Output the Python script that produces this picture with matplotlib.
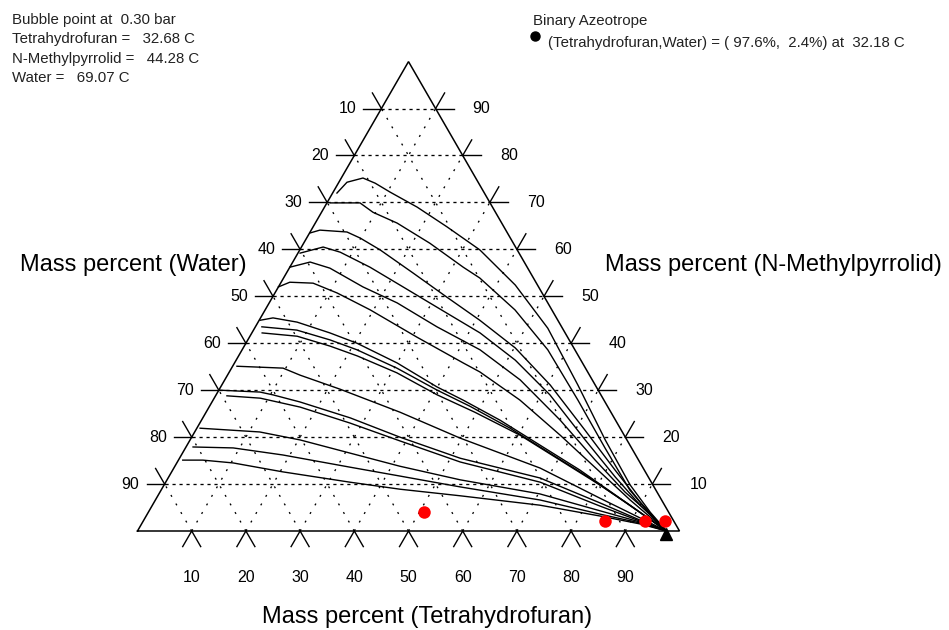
import numpy as np
import matplotlib
matplotlib.use("Agg")
import matplotlib.pyplot as plt

# ---------------- data (mass percent) ----------------
components = ["Tetrahydrofuran", "N-Methylpyrrolid", "Water"]
pressure_bar = 0.30
boiling_points = [32.68, 44.28, 69.07]
azeo_thf = 97.6
azeo_water = 2.4
azeo_temp = 32.18
grid_levels = [10, 20, 30, 40, 50, 60, 70, 80, 90]

# red points (THF %, NMP %)
red_thf = [50.8, 85.2, 92.5, 96.2]
red_nmp = [4.05, 2.13, 2.19, 2.19]

# curves: (THF %, NMP %)
curve_01 = [(0.8, 72.0), (1.5, 74.3), (4.0, 75.2), (6.8, 74.1), (10.5, 72.2), (17.1, 69.0), (24.7, 64.8),
            (33.2, 59.9), (43.5, 52.4), (54.1, 43.2), (65.7, 31.1), (76.6, 19.4), (86.0, 9.8), (92.6, 4.0), (97.6, 0.0)]
curve_02 = [(0.6, 69.9), (6.1, 69.9), (9.5, 67.9), (15.1, 65.6), (23.3, 61.3), (32.0, 56.2), (36.2, 53.9),
            (46.1, 47.1), (56.4, 38.6), (67.3, 27.9), (77.4, 17.7), (86.5, 8.7), (92.8, 3.6), (97.6, 0.0)]
curve_03 = [(0.1, 63.5), (1.6, 64.1), (6.8, 63.7), (9.9, 62.4), (14.8, 59.9), (23.3, 55.0), (32.2, 49.8),
            (40.7, 44.9), (50.2, 39.0), (60.6, 31.1), (71.8, 21.5), (81.6, 13.0), (89.6, 6.2), (97.6, 0.0)]
curve_04 = [(0.4, 59.2), (4.0, 60.5), (7.7, 59.4), (14.8, 56.2), (23.0, 52.0), (33.9, 46.4), (42.1, 42.2),
            (51.5, 36.4), (61.6, 29.0), (72.9, 19.4), (82.4, 11.5), (90.0, 5.5), (97.6, 0.0)]
curve_05 = [(0.0, 56.2), (3.2, 57.3), (7.5, 56.0), (15.6, 52.0), (23.6, 48.6), (33.5, 43.5), (43.9, 38.6),
            (54.5, 32.2), (66.2, 23.6), (76.9, 15.1), (85.8, 8.3), (92.2, 4.0), (97.6, 0.0)]
curve_06 = [(0.0, 52.0), (1.6, 53.0), (6.0, 52.8), (11.5, 50.7), (19.4, 47.1), (30.9, 41.3), (42.2, 35.8),
            (46.2, 33.9), (56.6, 27.9), (67.8, 20.4), (79.0, 12.6), (87.6, 6.6), (97.6, 0.0)]
curve_07 = [(0.2, 44.9), (2.3, 45.4), (7.2, 44.5), (14.4, 42.2), (20.5, 40.0), (30.0, 35.8), (39.9, 30.7),
            (46.1, 27.9), (55.1, 23.6), (65.1, 18.3), (75.1, 13.0), (85.5, 7.0), (97.6, 0.0)]
curve_08 = [(1.2, 43.5), (8.0, 42.8), (15.2, 40.7), (21.2, 38.6), (30.5, 34.7), (40.3, 30.0), (48.0, 26.6),
            (57.8, 21.9), (67.8, 16.6), (77.8, 11.3), (86.8, 6.2), (97.6, 0.0)]
curve_09 = [(1.9, 42.2), (8.7, 41.5), (15.8, 39.4), (21.9, 37.3), (31.0, 33.7), (40.8, 29.0), (49.6, 25.3),
            (60.4, 20.4), (70.4, 15.1), (80.4, 9.8), (88.1, 5.5), (97.6, 0.0)]
curve_10 = [(0.8, 35.1), (9.5, 34.7), (13.4, 33.2), (22.3, 30.2), (35.8, 25.3), (49.6, 19.8), (67.6, 13.4),
            (81.8, 7.0), (91.3, 2.8), (97.6, 0.0)]
curve_11 = [(0.2, 30.0), (7.8, 29.6), (10.5, 29.0), (16.2, 27.5), (27.2, 24.1), (38.4, 20.0), (51.8, 15.5),
            (68.6, 11.3), (82.3, 6.0), (91.6, 2.3), (97.6, 0.0)]
curve_12 = [(2.1, 28.8), (8.5, 28.3), (16.8, 26.4), (27.7, 23.0), (38.8, 19.2), (52.2, 14.7), (69.1, 10.4),
            (82.7, 5.3), (91.7, 2.1), (97.6, 0.0)]
curve_13 = [(0.6, 21.9), (12.0, 21.1), (20.3, 19.4), (30.9, 16.6), (41.5, 13.8), (54.1, 10.9), (70.3, 7.9),
            (83.2, 4.3), (91.8, 1.9), (97.6, 0.0)]
curve_14 = [(1.3, 17.9), (8.8, 17.7), (18.7, 16.2), (32.4, 13.6), (42.6, 11.7), (54.8, 9.4), (71.0, 6.6),
            (83.5, 3.6), (91.9, 1.7), (97.6, 0.0)]
curve_15 = [(0.8, 15.1), (4.5, 15.1), (10.4, 14.5), (20.5, 12.6), (34.0, 10.4), (44.0, 8.9), (55.8, 7.5),
            (71.5, 5.5), (83.7, 3.2), (92.0, 1.5), (97.6, 0.0)]
curves = [curve_01, curve_02, curve_03, curve_04, curve_05, curve_06, curve_07, curve_08,
          curve_09, curve_10, curve_11, curve_12, curve_13, curve_14, curve_15]

# ---------------- layout ----------------
W, H, DPI = 949, 630, 100
PX = 542.0            # pixels per triangle side
X0, Y0 = 137.5, 531.0  # pixel location of the water corner
S3 = np.sqrt(3) / 2

plt.rcParams['font.family'] = ['Liberation Sans', 'DejaVu Sans']


def tern(thf, nmp):
    t = np.asarray(thf, float) / 100.0
    n = np.asarray(nmp, float) / 100.0
    return t + n / 2.0, n * S3


def d(px):
    return px / PX


fig = plt.figure(figsize=(W / DPI, H / DPI), dpi=DPI)
ax = fig.add_axes([0, 0, 1, 1])
ax.set_xlim(-X0 / PX, (W - X0) / PX)
ax.set_ylim((Y0 - H) / PX, Y0 / PX)
ax.axis('off')

# triangle
tx, ty = tern([0, 100, 0, 0], [0, 0, 100, 0])
ax.plot(tx, ty, color='black', lw=1.1, solid_joinstyle='miter', zorder=3)

hdash = (0, (2.4, 2.9))
ddash = (0, (1.5, 6.0))
glw = 0.95
tlw = 1.0
TL = 18.0
for g in grid_levels:
    # constant NMP (horizontal)
    x, y = tern([0, 100 - g], [g, g])
    ax.plot(x, y, color='black', lw=glw, linestyle=hdash, zorder=1)
    # constant THF
    x, y = tern([g, g], [0, 100 - g])
    ax.plot(x, y, color='black', lw=glw, linestyle=ddash, zorder=1)
    # constant water
    x, y = tern([100 - g, 0], [0, 100 - g])
    ax.plot(x, y, color='black', lw=glw, linestyle=ddash, zorder=1)

    # ticks on left edge (water axis)
    lx, ly = tern(0, g)
    ax.plot([lx, lx - d(TL)], [ly, ly], color='black', lw=tlw)
    ax.plot([lx, lx - 0.5 * d(TL)], [ly, ly + S3 * d(TL)], color='black', lw=tlw)
    ax.text(lx - d(34), ly, f"{100 - g}", ha='center', va='center', fontsize=11.5)
    # ticks on right edge (NMP axis)
    rx, ry = tern(100 - g, g)
    ax.plot([rx, rx + d(TL)], [ry, ry], color='black', lw=tlw)
    ax.plot([rx, rx + 0.5 * d(TL)], [ry, ry + S3 * d(TL)], color='black', lw=tlw)
    ax.text(rx + d(46), ry, f"{g}", ha='center', va='center', fontsize=11.5)
    # ticks on bottom edge (THF axis)
    bx, by = tern(g, 0)
    ax.plot([bx - 0.5 * d(TL), bx, bx + 0.5 * d(TL)], [by - S3 * d(TL), by, by - S3 * d(TL)],
            color='black', lw=tlw)
    ax.text(bx, by - d(47), f"{g}", ha='center', va='center', fontsize=11.5)

# curves
for c in curves:
    arr = np.array(c)
    x, y = tern(arr[:, 0], arr[:, 1])
    ax.plot(x, y, color='black', lw=1.0, zorder=2)

# red points
x, y = tern(red_thf, red_nmp)
ax.plot(x, y, 'o', color='#ff0000', ms=9, mec='none', zorder=5)

# azeotrope marker
x, y = tern(azeo_thf, 0)
ax.plot(x, y - d(3), '^', color='black', ms=9, zorder=6)

# axis titles
cx, cy = tern(0, 50)
ax.text(cx - d(140), cy + d(31), f"Mass percent ({components[2]})", ha='center', va='center', fontsize=17)
cx, cy = tern(50, 50)
ax.text(cx + d(229), cy + d(31), f"Mass percent ({components[1]})", ha='center', va='center', fontsize=17)
cx, cy = tern(50, 0)
ax.text(cx + d(19), cy - d(86), f"Mass percent ({components[0]})", ha='center', va='center', fontsize=17)

# header texts
hf = 10.8
lines = [f"Bubble point at  {pressure_bar:.2f} bar",
         f"{components[0]} =   {boiling_points[0]:.2f} C",
         f"{components[1]} =   {boiling_points[1]:.2f} C",
         f"{components[2]} =   {boiling_points[2]:.2f} C"]
for i, s in enumerate(lines):
    fig.text(12 / W, 1 - (20 + 19.5 * i) / H, s, ha='left', va='center', fontsize=hf, color='#222222')

fig.text(533 / W, 1 - 21 / H, "Binary Azeotrope", ha='left', va='center', fontsize=hf, color='#222222')
fig.text(548 / W, 1 - 43 / H,
         f"({components[0]},{components[2]}) = ( {azeo_thf:.1f}%,  {azeo_water:.1f}%) at  {azeo_temp:.2f} C",
         ha='left', va='center', fontsize=hf, color='#222222')
fig.lines.append(plt.Line2D([535 / W], [1 - 36 / H], marker='o', color='black', ms=6.5,
                            transform=fig.transFigure))

fig.savefig("out.png", dpi=DPI)
